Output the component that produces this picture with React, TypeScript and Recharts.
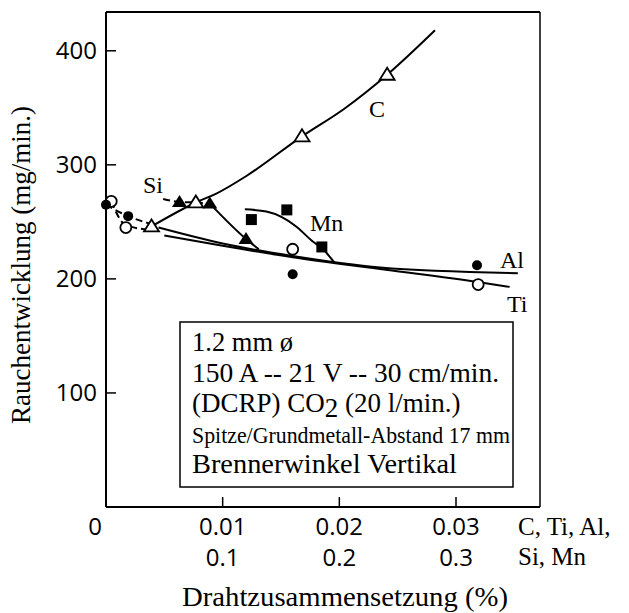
import React from "react";
import {
  ComposedChart,
  Line,
  Scatter,
  XAxis,
  YAxis,
} from "recharts";

// x in % (C, Ti, Al scale); Si/Mn use their own 10x scale
const X_TICKS = [0, 0.01, 0.02, 0.03];
const X_TICKS_SI = ["", "0.1", "0.2", "0.3"];
const Y_TICKS = [100, 200, 300, 400];

// C - open triangles
const C_POINTS = [
  { x: 0.0039, y: 246 },
  { x: 0.0077, y: 267 },
  { x: 0.0168, y: 325 },
  { x: 0.0241, y: 379 },
];
const C_CURVE = [
  { x: 0.0039, y: 246 },
  { x: 0.0077, y: 267 },
  { x: 0.0095, y: 275 },
  { x: 0.012, y: 290 },
  { x: 0.0168, y: 325 },
  { x: 0.0204, y: 349 },
  { x: 0.0241, y: 379 },
  { x: 0.0282, y: 418 },
];

// Ti - open circles
const TI_POINTS = [
  { x: 0.00045, y: 268 },
  { x: 0.0017, y: 245 },
  { x: 0.016, y: 226 },
  { x: 0.0319, y: 195 },
];
const TI_DASHED = [
  { x: 0.00045, y: 268 },
  { x: 0.0017, y: 247 },
  { x: 0.0039, y: 243 },
];
const TI_CURVE = [
  { x: 0.005, y: 238 },
  { x: 0.01, y: 229 },
  { x: 0.016, y: 219 },
  { x: 0.024, y: 208 },
  { x: 0.032, y: 197 },
  { x: 0.0346, y: 193 },
];

// Al - filled circles
const AL_POINTS = [
  { x: 0, y: 265 },
  { x: 0.0019, y: 255 },
  { x: 0.016, y: 204 },
  { x: 0.0318, y: 212 },
];
const AL_DASHED = [
  { x: 0, y: 265 },
  { x: 0.0019, y: 255 },
  { x: 0.0039, y: 248 },
];
const AL_CURVE = [
  { x: 0.0045, y: 245 },
  { x: 0.01, y: 231 },
  { x: 0.016, y: 220 },
  { x: 0.0235, y: 210 },
  { x: 0.0353, y: 205 },
];

// Si - filled triangles (Si scale)
const SI_POINTS = [
  { x: 0.063, y: 267.5 },
  { x: 0.089, y: 266 },
  { x: 0.12, y: 235 },
];
const SI_DASHED = [
  { x: 0.049, y: 270 },
  { x: 0.063, y: 267.5 },
  { x: 0.077, y: 267 },
  { x: 0.089, y: 266 },
];
const SI_CURVE = [
  { x: 0.089, y: 266 },
  { x: 0.12, y: 235 },
  { x: 0.131, y: 226 },
];

// Mn - filled squares (Si scale)
const MN_POINTS = [
  { x: 0.1246, y: 252 },
  { x: 0.155, y: 260.5 },
  { x: 0.185, y: 228 },
];
const MN_CURVE = [
  { x: 0.119, y: 261 },
  { x: 0.1375, y: 259 },
  { x: 0.163, y: 246 },
  { x: 0.177, y: 233 },
  { x: 0.185, y: 227 },
  { x: 0.196, y: 214 },
];

const X_MAX = 0.0372;
const Y_MAX = 434;

const SANS = "'Open Sans', sans-serif";
const SERIF = "'Liberation Serif', 'Times New Roman', serif";

const openCircle = (p: any) => (
  <circle cx={p.cx} cy={p.cy} r={5.5} fill="#fff" stroke="#000" strokeWidth={1.8} />
);
const filledCircle = (p: any) => <circle cx={p.cx} cy={p.cy} r={5} fill="#000" />;
const triPoints = (cx: number, cy: number) =>
  `${cx},${cy - 7} ${cx - 7.5},${cy + 5} ${cx + 7.5},${cy + 5}`;
const openTriangle = (p: any) => (
  <polygon points={triPoints(p.cx, p.cy)} fill="#fff" stroke="#000" strokeWidth={1.8} />
);
const filledTriangle = (p: any) => <polygon points={triPoints(p.cx, p.cy)} fill="#000" />;
const filledSquare = (p: any) => (
  <rect x={p.cx - 5.5} y={p.cy - 5.5} width={11} height={11} fill="#000" />
);

const BottomTick = (props: any) => {
  const { x, y, payload } = props;
  const v = payload.value as number;
  const i = X_TICKS.indexOf(v);
  return (
    <g>
      {v > 0 && <line x1={x} x2={x} y1={y} y2={y - 10} stroke="#000" strokeWidth={1.5} />}
      <text x={v === 0 ? x - 11 : x} y={y + 28} textAnchor="middle" fontFamily={SANS} fontSize={24}>
        {v === 0 ? "0" : v.toFixed(2)}
      </text>
      <text x={x} y={y + 59} textAnchor="middle" fontFamily={SANS} fontSize={24}>
        {X_TICKS_SI[i]}
      </text>
    </g>
  );
};

const TopTick = (props: any) => {
  const { x, y } = props;
  return <line x1={x} x2={x} y1={y} y2={y + 10} stroke="#000" strokeWidth={1.5} />;
};

const LeftTick = (props: any) => {
  const { x, y, payload } = props;
  return (
    <g>
      <line x1={x} x2={x + 10} y1={y} y2={y} stroke="#000" strokeWidth={1.5} />
      <text x={x - 9} y={y + 8.5} textAnchor="end" fontFamily={SANS} fontSize={24}>
        {payload.value}
      </text>
    </g>
  );
};

const RightTick = (props: any) => {
  const { x, y } = props;
  return <line x1={x} x2={x - 10} y1={y} y2={y} stroke="#000" strokeWidth={1.5} />;
};

const line = (data: any[], axis: string, dashed = false) => (
  <Line
    data={data}
    xAxisId={axis}
    yAxisId="left"
    dataKey="y"
    type="monotone"
    stroke="#000"
    strokeWidth={2}
    strokeDasharray={dashed ? "7 4" : undefined}
    dot={false}
    activeDot={false}
    legendType="none"
    isAnimationActive={false}
  />
);

export default function App() {
  return (
    <div style={{ position: "absolute", left: 0, top: 0, width: 629, height: 613, background: "#fff" }}>
      <ComposedChart
        width={629}
        height={613}
        margin={{ top: 11, right: 88, bottom: 105, left: 105 }}
      >
        <XAxis
          xAxisId="main"
          type="number"
          dataKey="x"
          domain={[0, X_MAX]}
          ticks={X_TICKS}
          height={1}
          tickSize={0}
          tickMargin={0}
          tickLine={false}
          axisLine={{ stroke: "#000", strokeWidth: 2 }}
          tick={<BottomTick />}
          interval={0}
        />
        <XAxis
          xAxisId="si"
          type="number"
          dataKey="x"
          domain={[0, X_MAX * 10]}
          hide
        />
        <XAxis
          xAxisId="top"
          orientation="top"
          type="number"
          dataKey="x"
          domain={[0, X_MAX]}
          ticks={[0.01, 0.02, 0.03]}
          height={1}
          tickSize={0}
          tickMargin={0}
          tickLine={false}
          axisLine={{ stroke: "#000", strokeWidth: 2 }}
          tick={<TopTick />}
          interval={0}
        />
        <YAxis
          yAxisId="left"
          type="number"
          dataKey="y"
          domain={[0, Y_MAX]}
          ticks={Y_TICKS}
          width={1}
          tickSize={0}
          tickMargin={0}
          tickLine={false}
          axisLine={{ stroke: "#000", strokeWidth: 2 }}
          tick={<LeftTick />}
          interval={0}
        />
        <YAxis
          yAxisId="right"
          orientation="right"
          type="number"
          dataKey="y"
          domain={[0, Y_MAX]}
          ticks={Y_TICKS}
          width={1}
          tickSize={0}
          tickMargin={0}
          tickLine={false}
          axisLine={{ stroke: "#000", strokeWidth: 1.5 }}
          tick={<RightTick />}
          interval={0}
        />

        {line(C_CURVE, "main")}
        {line(TI_DASHED, "main", true)}
        {line(TI_CURVE, "main")}
        {line(AL_DASHED, "main", true)}
        {line(AL_CURVE, "main")}
        {line(SI_DASHED, "si", true)}
        {line(SI_CURVE, "si")}
        {line(MN_CURVE, "si")}

        <Scatter data={C_POINTS} xAxisId="main" yAxisId="left" dataKey="y" shape={openTriangle} isAnimationActive={false} />
        <Scatter data={TI_POINTS} xAxisId="main" yAxisId="left" dataKey="y" shape={openCircle} isAnimationActive={false} />
        <Scatter data={AL_POINTS} xAxisId="main" yAxisId="left" dataKey="y" shape={filledCircle} isAnimationActive={false} />
        <Scatter data={SI_POINTS} xAxisId="si" yAxisId="left" dataKey="y" shape={filledTriangle} isAnimationActive={false} />
        <Scatter data={MN_POINTS} xAxisId="si" yAxisId="left" dataKey="y" shape={filledSquare} isAnimationActive={false} />
      </ComposedChart>

      <svg
        width={629}
        height={613}
        style={{ position: "absolute", left: 0, top: 0, pointerEvents: "none" }}
      >
        <g fontFamily={SERIF} fill="#000">
          <text x={21} y={265} fontSize={27} textAnchor="middle" dominantBaseline="central" transform="rotate(-90 21 265)">
            Rauchentwicklung (mg/min.)
          </text>
          <text x={182} y={606} fontSize={27} textLength={326} lengthAdjust="spacingAndGlyphs">
            Drahtzusammensetzung  (%)
          </text>
          <text x={518} y={535} fontSize={25}>C, Ti, Al,</text>
          <text x={518} y={565} fontSize={25}>Si, Mn</text>

          <text x={143} y={193} fontSize={24}>Si</text>
          <text x={310} y={231} fontSize={24}>Mn</text>
          <text x={369} y={117} fontSize={24}>C</text>
          <text x={500} y={268} fontSize={24}>Al</text>
          <text x={507} y={312} fontSize={24}>Ti</text>

          <rect x={180} y={322} width={333} height={165} fill="#fff" stroke="#000" strokeWidth={1.5} />
          <text x={192} y={351} fontSize={27} textLength={101} lengthAdjust="spacingAndGlyphs">1.2 mm ø</text>
          <text x={192} y={382} fontSize={27} textLength={307} lengthAdjust="spacingAndGlyphs">
            150 A -- 21 V -- 30 cm/min.
          </text>
          <text x={192} y={412} fontSize={27}>
            (DCRP) CO<tspan dy={5}>2</tspan>
            <tspan dy={-5}> (20 l/min.)</tspan>
          </text>
          <text x={192} y={443} fontSize={23} textLength={318} lengthAdjust="spacingAndGlyphs">
            Spitze/Grundmetall-Abstand 17 mm
          </text>
          <text x={192} y={473} fontSize={27} textLength={265} lengthAdjust="spacingAndGlyphs">
            Brennerwinkel Vertikal
          </text>
        </g>
      </svg>
    </div>
  );
}
